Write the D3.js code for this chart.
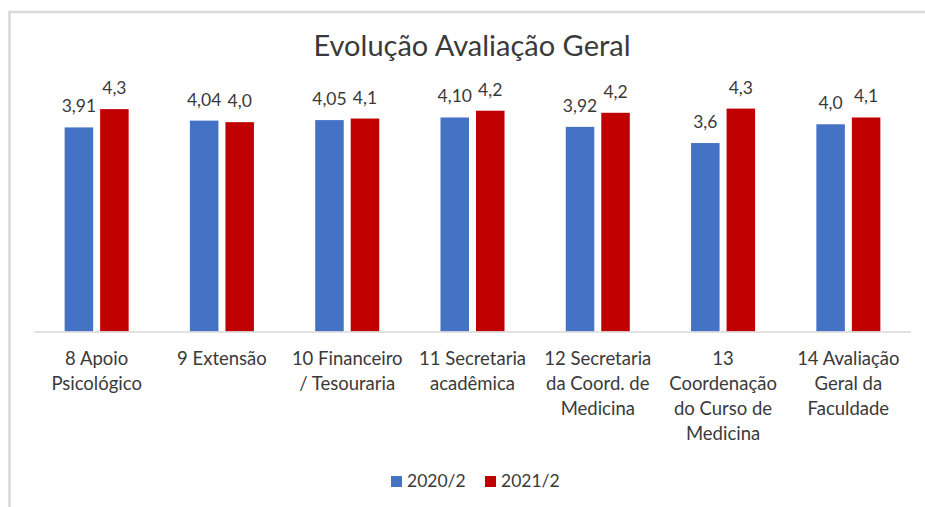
<!DOCTYPE html>
<html>
<head>
<meta charset="utf-8">
<script src="https://cdn.jsdelivr.net/npm/d3@7"></script>
<style>
    body { margin: 0; background: #fff; }
    text { font-family: Lato, "Open Sans", sans-serif; fill: #3a3a3a; }
</style>
</head>
<body>
<svg id="chart" width="925" height="507"></svg>
<script>
// categorias (cada linha = uma linha do rótulo)
var categorias = [
    ["8 Apoio", "Psicológico"],
    ["9 Extensão"],
    ["10 Financeiro", "/ Tesouraria"],
    ["11 Secretaria", "acadêmica"],
    ["12 Secretaria", "da Coord. de", "Medicina"],
    ["13", "Coordenação", "do Curso de", "Medicina"],
    ["14 Avaliação", "Geral da", "Faculdade"]
];
var series = ["2020/2", "2021/2"];
var valores2020 = [3.91, 4.04, 4.05, 4.10, 3.92, 3.61, 3.97];
var valores2021 = [4.26, 4.01, 4.08, 4.23, 4.19, 4.27, 4.10];
var rotulos2020 = ["3,91", "4,04", "4,05", "4,10", "3,92", "3,6", "4,0"];
var rotulos2021 = ["4,3", "4,0", "4,1", "4,2", "4,2", "4,3", "4,1"];
var cores = ["#4472C4", "#C00000"];

var svg = d3.select("#chart");

// moldura (só topo e esquerda aparecem)
svg.append("path")
    .attr("d", "M9.5,507 L9.5,12 L925,12")
    .attr("fill", "none")
    .attr("stroke", "#D9D9D9")
    .attr("stroke-width", 2.5);

var plot = {left: 34, right: 911, top: 70.5, bottom: 331.5};

var dados = categorias.map(function (c, i) {
    return {cat: i, vals: [
        {s: 0, v: valores2020[i], lbl: rotulos2020[i]},
        {s: 1, v: valores2021[i], lbl: rotulos2021[i]}
    ]};
});

var x0 = d3.scaleBand()
    .domain(d3.range(categorias.length))
    .range([plot.left, plot.right])
    .paddingInner(0.489)
    .paddingOuter(0.2445);
var x1 = d3.scaleBand()
    .domain([0, 1])
    .range([0, x0.bandwidth()])
    .paddingInner(0.197);
var y = d3.scaleLinear().domain([0, 5]).range([plot.bottom, plot.top]);

// titulo
svg.append("text")
    .attr("x", 472)
    .attr("y", 56)
    .attr("text-anchor", "middle")
    .style("font-size", "29px")
    .text("Evolução Avaliação Geral");

var grupos = svg.selectAll(".grupo").data(dados).enter().append("g")
    .attr("class", "grupo")
    .attr("transform", function (d) { return "translate(" + x0(d.cat) + ",0)"; });

grupos.selectAll("rect").data(function (d) { return d.vals; }).enter().append("rect")
    .attr("x", function (d) { return x1(d.s); })
    .attr("y", function (d) { return y(d.v); })
    .attr("width", x1.bandwidth())
    .attr("height", function (d) { return y(0) - y(d.v); })
    .attr("fill", function (d) { return cores[d.s]; });

grupos.selectAll(".lbl").data(function (d) { return d.vals; }).enter().append("text")
    .attr("class", "lbl")
    .attr("x", function (d) { return x1(d.s) + x1.bandwidth() / 2; })
    .attr("y", function (d) { return y(d.v) - 15; })
    .attr("text-anchor", "middle")
    .style("font-size", "17.5px")
    .text(function (d) { return d.lbl; });

// eixo x (só a linha de base)
svg.append("line")
    .attr("x1", plot.left).attr("x2", plot.right)
    .attr("y1", plot.bottom + 0.5).attr("y2", plot.bottom + 0.5)
    .attr("stroke", "#D9D9D9")
    .attr("stroke-width", 1.5);

svg.selectAll(".cat").data(dados).enter().append("text")
    .attr("class", "cat")
    .attr("x", function (d) { return x0(d.cat) + x0.bandwidth() / 2; })
    .attr("y", 365)
    .attr("text-anchor", "middle")
    .style("font-size", "18.5px")
    .each(function (d) {
        var t = d3.select(this);
        categorias[d.cat].forEach(function (linha, i) {
            t.append("tspan")
                .attr("x", x0(d.cat) + x0.bandwidth() / 2)
                .attr("dy", i == 0 ? 0 : 25)
                .text(linha);
        });
    });

// legenda
var legX = [391, 485];
var leg = svg.selectAll(".leg").data(series).enter().append("g")
    .attr("class", "leg")
    .attr("transform", function (d, i) { return "translate(" + legX[i] + ",476)"; });
leg.append("rect")
    .attr("width", 11).attr("height", 11)
    .attr("fill", function (d, i) { return cores[i]; });
leg.append("text")
    .attr("x", 16)
    .attr("y", 11)
    .style("font-size", "17.5px")
    .text(function (d) { return d; });
</script>
</body>
</html>
